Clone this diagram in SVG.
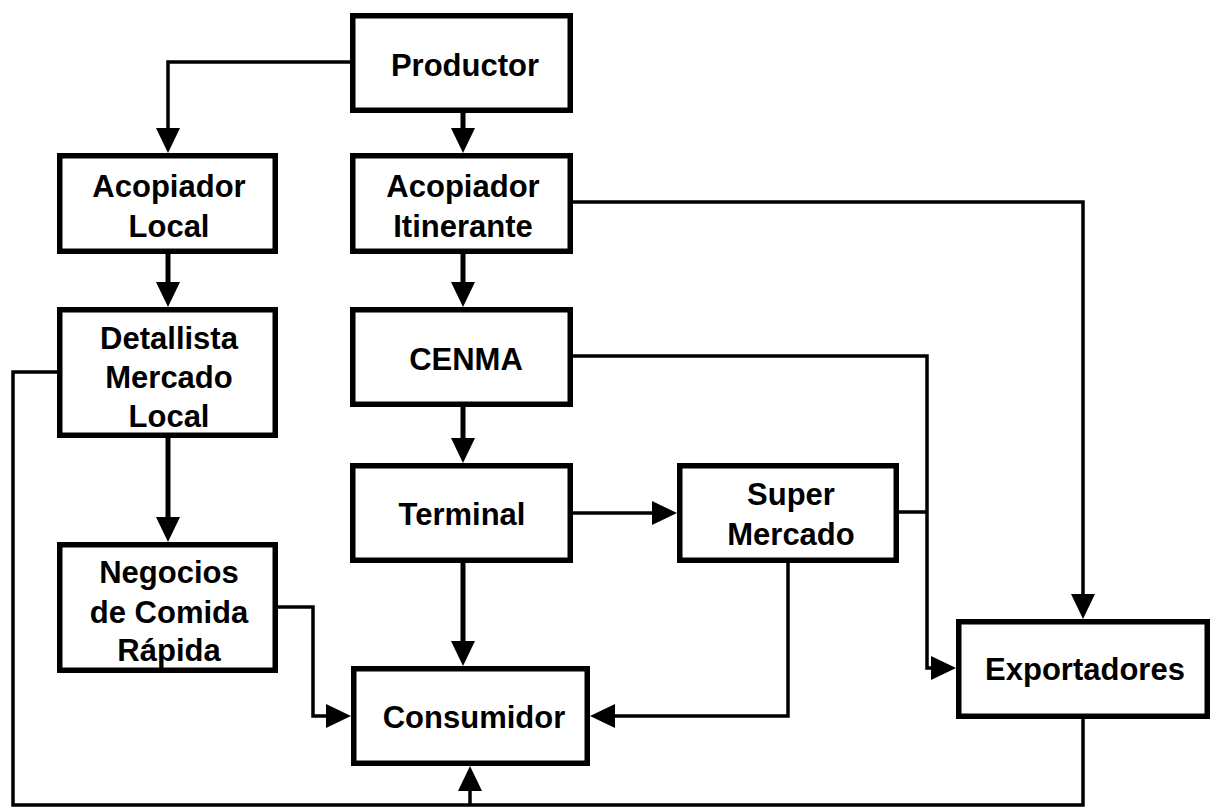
<svg xmlns="http://www.w3.org/2000/svg" width="1213" height="808" viewBox="0 0 1213 808">
<style>
.box{fill:#fff;stroke:#000;stroke-width:5.5}
.t{font-family:"Liberation Sans",Arial,sans-serif;font-weight:bold;font-size:31px;fill:#000;text-anchor:middle}
.thick{fill:none;stroke:#000;stroke-width:5}
.thin{fill:none;stroke:#000;stroke-width:3.5}
.ah{fill:#000;stroke:none}
</style>
<rect width="1213" height="808" fill="#fff"/>
<g id="connectors">
<path class="thick" d="M463 113V129"/><polygon class="ah" points="451,128 475,128 463,153"/>
<path class="thick" d="M168 254V283"/><polygon class="ah" points="156,282 180,282 168,307"/>
<path class="thick" d="M463 254V283"/><polygon class="ah" points="451,282 475,282 463,307"/>
<path class="thick" d="M463 407V439"/><polygon class="ah" points="451,438 475,438 463,463"/>
<path class="thick" d="M463 563V642"/><polygon class="ah" points="451,641 475,641 463,666"/>
<path class="thick" d="M168 438V518"/><polygon class="ah" points="156,517 180,517 168,542"/>
<path class="thin" d="M350 62H168V129"/><polygon class="ah" points="156,128 180,128 168,153"/>
<path class="thin" d="M573 513H653"/><polygon class="ah" points="652,501 652,525 677,513"/>
<path class="thin" d="M573 202H1083V595"/><polygon class="ah" points="1071,594 1095,594 1083,619"/>
<path class="thin" d="M573 356H927V668H932"/><polygon class="ah" points="931,656 931,680 956,668"/>
<path class="thin" d="M899 512H927"/>
<path class="thin" d="M788 563V716H614"/><polygon class="ah" points="615,704 615,728 590,716"/>
<path class="thin" d="M278 607H313V716H327"/><polygon class="ah" points="326,704 326,728 351,716"/>
<path class="thin" d="M57 372H13V805H1083V719"/>
<path class="thin" d="M470 805V790"/><polygon class="ah" points="458,791 482,791 470,766"/>
</g>
<g id="productor"><rect class="box" x="352.75" y="15.75" width="217.5" height="94.5"/><text class="t" x="465" y="76">Productor</text></g>
<g id="acopiador-local"><rect class="box" x="59.75" y="155.75" width="215.5" height="95.5"/><text class="t" x="169" y="197">Acopiador</text><text class="t" x="169" y="237">Local</text></g>
<g id="acopiador-itinerante"><rect class="box" x="352.75" y="155.75" width="217.5" height="95.5"/><text class="t" x="463" y="197">Acopiador</text><text class="t" x="463" y="237">Itinerante</text></g>
<g id="detallista"><rect class="box" x="59.75" y="309.75" width="215.5" height="125.5"/><text class="t" x="169" y="349">Detallista</text><text class="t" x="169" y="388">Mercado</text><text class="t" x="169" y="427">Local</text></g>
<g id="cenma"><rect class="box" x="352.75" y="309.75" width="217.5" height="94.5"/><text class="t" x="466" y="370">CENMA</text></g>
<g id="terminal"><rect class="box" x="352.75" y="465.75" width="217.5" height="94.5"/><text class="t" x="462" y="525">Terminal</text></g>
<g id="supermercado"><rect class="box" x="679.75" y="465.75" width="216.5" height="94.5"/><text class="t" x="791" y="505">Super</text><text class="t" x="791" y="545">Mercado</text></g>
<g id="negocios"><rect class="box" x="59.75" y="544.75" width="215.5" height="125.5"/><text class="t" x="169" y="583">Negocios</text><text class="t" x="169" y="623">de Comida</text><text class="t" x="169" y="661">Rápida</text></g>
<g id="consumidor"><rect class="box" x="353.75" y="668.75" width="233.5" height="94.5"/><text class="t" x="474" y="728">Consumidor</text></g>
<g id="exportadores"><rect class="box" x="958.75" y="621.75" width="248.5" height="94.5"/><text class="t" x="1085" y="680">Exportadores</text></g>
</svg>
